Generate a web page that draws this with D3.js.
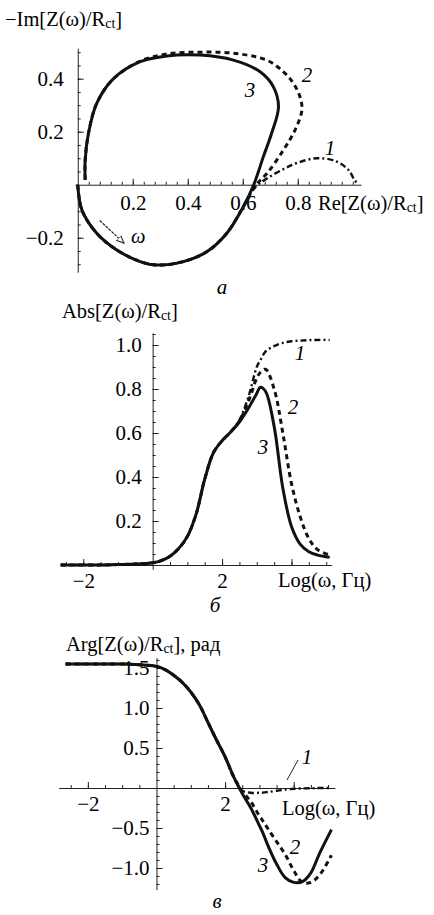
<!DOCTYPE html>
<html>
<head>
<meta charset="utf-8">
<script src="https://cdn.jsdelivr.net/npm/d3@7"></script>
<style>
  body { margin: 0; background: #fff; }
  svg { display: block; }
  text { font-family: "Liberation Serif", "DejaVu Serif", serif; fill: #000; }
  .lbl { font-size: 20.5px; }
  .num { font-size: 21px; font-style: italic; }
  .tick text { font-size: 21px; font-family: "Liberation Serif", serif; }
</style>
</head>
<body>
<svg id="chart" width="434" height="915"></svg>
<script>
// ---- panel a: Nyquist plot, points [Re, -Im] in order of growing frequency
var nyquist3 = [
  [0, 0], [0.015, -0.095], [0.069, -0.183], [0.142, -0.246], [0.227, -0.29],
  [0.287, -0.303], [0.384, -0.29], [0.469, -0.253], [0.542, -0.183], [0.602, -0.083],
  [0.64, 0], [0.675, 0.106], [0.705, 0.194], [0.73, 0.294], [0.711, 0.37],
  [0.663, 0.426], [0.566, 0.47], [0.445, 0.489], [0.324, 0.486], [0.227, 0.464],
  [0.13, 0.4], [0.069, 0.307], [0.039, 0.194], [0.027, 0.093], [0.027, 0.018]
];
var nyquist2 = [
  [0, 0], [0.015, -0.095], [0.069, -0.183], [0.142, -0.246], [0.227, -0.29],
  [0.287, -0.303], [0.384, -0.29], [0.469, -0.253], [0.542, -0.183], [0.602, -0.083],
  [0.645, -0.005], [0.69, 0.045], [0.748, 0.131], [0.79, 0.206], [0.815, 0.282],
  [0.808, 0.332], [0.784, 0.383], [0.748, 0.426], [0.687, 0.47], [0.566, 0.496],
  [0.445, 0.5], [0.33, 0.494], [0.227, 0.466], [0.13, 0.4], [0.069, 0.307],
  [0.039, 0.194], [0.027, 0.093], [0.027, 0.018]
];
var nyquist1 = [
  [0, 0], [0.015, -0.095], [0.069, -0.183], [0.142, -0.246], [0.227, -0.29],
  [0.287, -0.303], [0.384, -0.29], [0.469, -0.253], [0.542, -0.183], [0.602, -0.083],
  [0.645, -0.01], [0.69, 0.025], [0.75, 0.06], [0.8, 0.083], [0.87, 0.1],
  [0.94, 0.088], [0.985, 0.055], [1.008, 0.015], [1.02, 0.004]
];
var omegaArrow = [[0.08, -0.135], [0.168, -0.22]];

var reTicks = [0.2, 0.4, 0.6, 0.8];
var imTicks = [-0.2, 0.2, 0.4];

// ---- panels б and в: shared frequency grid, Log(ω)
var logW = [-2.65, -2, -1.5, -1, -0.5, 0, 0.25, 0.5, 0.75, 1, 1.25, 1.5, 1.75, 2,
            2.25, 2.5, 2.75, 3, 3.1, 3.25, 3.5, 3.75, 4, 4.25, 4.5, 4.75, 5.1];
var abs3 = [0, 0, 0, 0.002, 0.004, 0.01, 0.02, 0.04, 0.075, 0.13, 0.23, 0.39, 0.51, 0.565,
            0.605, 0.65, 0.71, 0.78, 0.808, 0.79, 0.63, 0.35, 0.175, 0.095, 0.06, 0.045, 0.035];
var abs2 = [0, 0, 0, 0.002, 0.004, 0.01, 0.02, 0.04, 0.075, 0.13, 0.23, 0.39, 0.51, 0.565,
            0.605, 0.655, 0.74, 0.85, 0.875, 0.89, 0.8, 0.6, 0.37, 0.22, 0.12, 0.07, 0.045];
var abs1 = [0, 0, 0, 0.002, 0.004, 0.01, 0.02, 0.04, 0.075, 0.13, 0.23, 0.39, 0.51, 0.565,
            0.605, 0.66, 0.76, 0.9, 0.93, 0.97, 0.995, 1.01, 1.017, 1.02, 1.022, 1.023, 1.023];
var arg3 = [1.55, 1.55, 1.55, 1.55, 1.54, 1.52, 1.48, 1.41, 1.32, 1.2, 1.04, 0.82, 0.6, 0.39,
            0.14, -0.07, -0.25, -0.47, -0.56, -0.72, -0.95, -1.12, -1.18, -1.17, -1.06, -0.82, -0.52];
var arg2 = [1.55, 1.55, 1.55, 1.55, 1.54, 1.52, 1.48, 1.41, 1.32, 1.2, 1.04, 0.82, 0.6, 0.39,
            0.14, -0.04, -0.17, -0.35, -0.41, -0.51, -0.67, -0.83, -1.03, -1.18, -1.18, -1.09, -0.84];
var arg1 = [1.55, 1.55, 1.55, 1.55, 1.54, 1.52, 1.48, 1.41, 1.32, 1.2, 1.04, 0.82, 0.6, 0.39,
            0.13, -0.03, -0.06, -0.06, -0.058, -0.05, -0.035, -0.02, -0.01, -0.005, -0.003, 0, 0];

var logTicks = [-2, 2];
var logMajor = [-2, 2, 4];
var absTicks = [0.2, 0.4, 0.6, 0.8, 1.0];
var argTicks = [-1.0, -0.5, 0.5, 1.0, 1.5];

var svg = d3.select('#chart');
var fmt = function(d) { return d3.format('.1f')(d).replace('-', '\u2212'); };

var styles = {
  1: {width: 2.4, dash: '6,3,2,3'},
  2: {width: 3, dash: '5,4'},
  3: {width: 3, dash: null}
};

// draw Mathematica style axes crossing at the origin, ticks pointing inward
function drawAxes(x, y, opt) {
  var g = svg.append('g');
  g.append('g')
    .attr('transform', 'translate(0,' + y(0) + ')')
    .call(d3.axisBottom(x).tickValues(opt.xMinor).tickSize(-3).tickSizeOuter(0).tickFormat(''))
    .call(function(s) { s.select('.domain').remove(); });
  g.append('g')
    .attr('transform', 'translate(' + x(0) + ',0)')
    .call(d3.axisLeft(y).tickValues(opt.yMinor).tickSize(-3).tickSizeOuter(0).tickFormat(''))
    .call(function(s) { s.select('.domain').remove(); });
  g.append('g')
    .attr('transform', 'translate(0,' + y(0) + ')')
    .call(d3.axisBottom(x).tickValues(opt.xMajor).tickSize(-6).tickSizeOuter(0)
      .tickPadding(opt.xPad).tickFormat(function(d) { return opt.xLabels.indexOf(d) >= 0 ? opt.xFmt(d) : ''; }));
  g.append('g')
    .attr('transform', 'translate(' + x(0) + ',0)')
    .call(d3.axisLeft(y).tickValues(opt.yMajor).tickSize(-6).tickSizeOuter(0)
      .tickPadding(opt.yPad).tickFormat(fmt));
  g.selectAll('.domain, .tick line').attr('stroke', '#222').attr('stroke-width', 1);
  g.selectAll('.tick text').attr('fill', '#000').attr('font-size', 21);
  return g;
}

function drawCurve(pts, x, y, id) {
  var line = d3.line()
    .x(function(d) { return x(d[0]); })
    .y(function(d) { return y(d[1]); })
    .curve(d3.curveCatmullRom.alpha(0.5));
  svg.append('path')
    .datum(pts)
    .attr('d', line)
    .attr('fill', 'none')
    .attr('stroke', '#111')
    .attr('stroke-width', styles[id].width)
    .attr('stroke-dasharray', styles[id].dash);
}

function title(xp, yp, before, after) {
  var t = svg.append('text').attr('class', 'lbl').attr('x', xp).attr('y', yp);
  t.append('tspan').text(before);
  t.append('tspan').attr('font-size', 14).attr('dy', 2).text('ct');
  t.append('tspan').attr('dy', -2).text(after);
}

function label(txt, xp, yp, cls) {
  svg.append('text').attr('class', cls).attr('x', xp).attr('y', yp)
    .attr('text-anchor', 'middle').text(txt);
}

// ================= panel a =================
var xa = d3.scaleLinear().domain([-0.01, 1.03]).range([75, 361]);
var ya = d3.scaleLinear().domain([-0.33, 0.515]).range([272.2, 48.2]);

drawAxes(xa, ya, {
  xMajor: reTicks, xLabels: reTicks, xFmt: fmt, xPad: 10,
  xMinor: d3.range(0.04, 1.03, 0.04), yMajor: imTicks, yPad: 14,
  yMinor: d3.range(-0.3, 0.52, 0.05).filter(function(d) { return Math.abs(d) > 0.01; })
});

drawCurve(nyquist1, xa, ya, 1);
drawCurve(nyquist2, xa, ya, 2);
drawCurve(nyquist3, xa, ya, 3);

// frequency arrow
svg.append('defs').append('marker')
  .attr('id', 'arr').attr('viewBox', '0 0 10 10').attr('refX', 9).attr('refY', 5)
  .attr('markerWidth', 7).attr('markerHeight', 7).attr('orient', 'auto')
  .append('path').attr('d', 'M0,1 L9,5 L0,9 Z').attr('fill', '#fff').attr('stroke', '#222').attr('stroke-width', 1.2);
svg.append('line')
  .attr('x1', xa(omegaArrow[0][0])).attr('y1', ya(omegaArrow[0][1]))
  .attr('x2', xa(omegaArrow[1][0])).attr('y2', ya(omegaArrow[1][1]))
  .attr('stroke', '#222').attr('stroke-width', 1.2).attr('stroke-dasharray', '3,1')
  .attr('marker-end', 'url(#arr)');
svg.append('text').attr('class', 'lbl').attr('x', 131).attr('y', 243).attr('font-style', 'italic').text('\u03c9');

title(5, 26, '\u2212Im[Z(\u03c9)/R', ']');
title(318, 210, 'Re[Z(\u03c9)/R', ']');
label('3', 250, 97, 'num');
label('2', 307, 82, 'num');
label('1', 330, 155, 'num');
label('\u0430', 222, 294, 'num');

// ================= panel б =================
var xb = d3.scaleLinear().domain([-2.65, 5.15]).range([60.7, 331.4]);
var yb = d3.scaleLinear().domain([-0.02, 1.055]).range([569.4, 332.9]);

drawAxes(xb, yb, {
  xMajor: logMajor, xLabels: logTicks, xFmt: function(d) { return String(d).replace('-', '\u2212'); }, xPad: 8,
  xMinor: d3.range(-2.5, 5.1, 0.5).filter(function(d) { return d !== 0; }), yMajor: absTicks, yPad: 11,
  yMinor: d3.range(0.05, 1.06, 0.05)
});

var absSeries = [abs1, abs2, abs3];
absSeries.forEach(function(vals, i) {
  drawCurve(logW.map(function(w, j) { return [w, vals[j]]; }), xb, yb, i + 1);
});

title(62, 318, 'Abs[Z(\u03c9)/R', ']');
svg.append('text').attr('class', 'lbl').attr('x', 278).attr('y', 587).text('Log(\u03c9, \u0413\u0446)');
label('1', 300, 360, 'num');
label('2', 293, 414, 'num');
label('3', 263, 454, 'num');
label('\u0431', 215, 612, 'num');

// ================= panel в =================
var xc = d3.scaleLinear().domain([-2.85, 5.2]).range([58.7, 334.9]);
var yc = d3.scaleLinear().domain([-1.27, 1.63]).range([889.6, 657.6]);

drawAxes(xc, yc, {
  xMajor: logMajor, xLabels: logTicks, xFmt: function(d) { return String(d).replace('-', '\u2212'); }, xPad: 8,
  xMinor: d3.range(-2.5, 5.1, 0.5).filter(function(d) { return d !== 0; }), yMajor: argTicks, yPad: 7,
  yMinor: d3.range(-1.2, 1.65, 0.1).filter(function(d) { return Math.abs(d) > 0.01; })
});

var argSeries = [arg1, arg2, arg3];
argSeries.forEach(function(vals, i) {
  drawCurve(logW.map(function(w, j) { return [w, vals[j]]; }), xc, yc, i + 1);
});

title(66, 651, 'Arg[Z(\u03c9)/R', '], \u0440\u0430\u0434');
svg.append('text').attr('class', 'lbl').attr('x', 282).attr('y', 815).text('Log(\u03c9, \u0413\u0446)');
svg.append('line').attr('x1', 298).attr('y1', 760).attr('x2', 287).attr('y2', 780)
  .attr('stroke', '#222').attr('stroke-width', 1);
label('1', 307, 764, 'num');
label('2', 295, 854, 'num');
label('3', 263, 872, 'num');
label('\u0432', 217, 908, 'num');
</script>
</body>
</html>
